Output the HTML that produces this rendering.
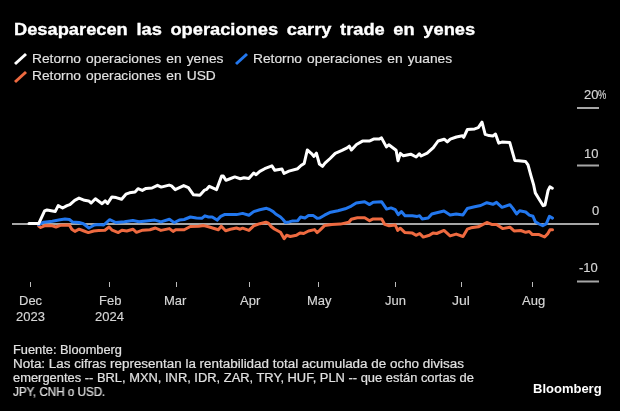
<!DOCTYPE html>
<html><head><meta charset="utf-8">
<style>
html,body{margin:0;padding:0;background:#000;width:620px;height:411px;overflow:hidden}
body{position:relative;font-family:"Liberation Sans",sans-serif;color:#fff}
.t{position:absolute;white-space:nowrap;line-height:1;transform-origin:0 0;will-change:transform}
.leg{font-size:13px;color:#e2e2e2;-webkit-text-stroke:0.15px #e2e2e2}
.ax{font-size:13px;color:#d6d6d6;-webkit-text-stroke:0.15px #d6d6d6}
.foot{font-size:12px;color:#e0e0e0;-webkit-text-stroke:0.2px #e0e0e0}
svg{position:absolute;left:0;top:0}
</style></head><body>
<div id="title" class="t" style="left:13.5px;top:21px;font-size:17px;font-weight:bold;color:#fff;word-spacing:3.3px;transform:scaleX(1.075);-webkit-text-stroke:0.35px #fff">Desaparecen las operaciones carry trade en yenes</div>
<div class="t leg" style="left:31.6px;top:52.3px;transform:scaleX(1.06);word-spacing:1.2px">Retorno operaciones en yenes</div>
<div class="t leg" style="left:252.6px;top:52.3px;transform:scaleX(1.06);word-spacing:1.2px">Retorno operaciones en yuanes</div>
<div class="t leg" style="left:31.6px;top:69px;transform:scaleX(1.06);word-spacing:1.2px">Retorno operaciones en USD</div>
<svg width="620" height="411" viewBox="0 0 620 411">
 <line x1="15" y1="64" x2="26" y2="54" stroke="#fff" stroke-width="3"/>
 <line x1="236" y1="64" x2="247" y2="54" stroke="#2277ee" stroke-width="3"/>
 <line x1="15" y1="82" x2="26" y2="72" stroke="#ee6a40" stroke-width="3"/>
 <g stroke="#a6a6a6" stroke-width="2">
  <line x1="577" y1="108" x2="599" y2="108"/>
  <line x1="577" y1="165.5" x2="599" y2="165.5"/>
  <line x1="577" y1="281.5" x2="599" y2="281.5"/>
  <line x1="12" y1="224" x2="599" y2="224"/>
 </g>
 <g stroke="#bbb" stroke-width="1">
  <line x1="30.5" y1="282" x2="30.5" y2="287"/>
  <line x1="109.5" y1="282" x2="109.5" y2="287"/>
  <line x1="176.5" y1="282" x2="176.5" y2="287"/>
  <line x1="249.5" y1="282" x2="249.5" y2="287"/>
  <line x1="318.5" y1="282" x2="318.5" y2="287"/>
  <line x1="395.5" y1="282" x2="395.5" y2="287"/>
  <line x1="461.5" y1="282" x2="461.5" y2="287"/>
  <line x1="532.5" y1="282" x2="532.5" y2="287"/>
 </g>
<!--LINES-->
 <polyline points="38.7,226 40.7,227.5 45,225.6 52.4,225.8 56,227 60.3,225.3 69.4,225 71.8,229.2 74.9,231.4 79.1,229.2 84,231 88.3,232.6 93.7,231 98.6,230.4 104.9,230.2 109.1,227 112.2,230.2 118.3,232.6 121.9,230.2 126.8,231 132.9,229.2 136.5,232.3 142.6,230.2 149.9,229.8 155.4,228 160.9,230.4 169.4,228.6 173.1,231.4 175.7,229.8 184.2,229.8 190.3,226.5 198.8,226.2 203.7,225.6 208.5,226.8 213.4,228.2 218.3,229.8 221.3,226.2 225.6,230.7 230.4,229.2 236.5,228 240.2,229.2 242.6,228.2 248.9,230.4 253.7,225.8 259.8,223.7 265.9,222.2 268.4,223.1 270.8,226.2 274.4,229 280.5,232.3 284.2,238.7 286.6,235.3 290.3,236.5 296.4,235.3 300,232.9 303.7,233.5 308.5,231 314.6,229.6 317.1,232.6 319.7,230.4 324.5,225.6 331.8,224.4 340.4,224.1 348.9,222.2 351.3,219.2 357.4,217.7 364.7,217.7 369.6,220.7 373.2,218.9 381.7,218.9 384.8,224.4 389.1,225.8 395.3,225 397.7,230.4 400.2,228.2 405,232.6 412.4,233.1 416,235.3 419.7,233.5 423.3,237.1 429.4,235.3 433,232.9 436.7,233.5 444,230.4 450.1,235.9 456.2,234.1 463,236.5 467.3,229.2 471,227.8 478.3,226.8 486.8,222.5 491.7,224.4 496.5,224.4 502.6,228.6 509.9,227.2 514.1,230.9 520.8,230.5 525.7,232.3 529.3,231.5 532.4,234.6 539.1,234.6 544.6,237 547.6,233.9 550,229.7 552.5,229.7" fill="none" stroke="#ee6a40" stroke-width="3" stroke-linejoin="round" stroke-linecap="round"/>
 <polyline points="38.7,224.6 43.8,222.2 52.4,221.3 60.1,219.7 65,219 69.4,219.5 72.4,221.9 79.1,222.5 83.4,223.7 88.9,228 94.4,225 98.6,224.4 103.7,225 109.7,219.7 115.8,222.5 124.4,221.7 132.9,220.5 139,221.7 146.3,220.9 154.8,220.1 160.9,221.9 169.4,219.2 173.1,221.9 174.4,222.5 179.3,220.1 184.2,219.5 190.3,217 196.4,218 201.8,218.3 204.9,215.8 208.5,217 212.2,217 217.1,220.1 220.7,216.4 224.4,214.6 230.4,214.4 236.5,214.6 242.6,213.4 248.9,215.2 253.7,211.6 259.8,209.7 266.5,208.3 269.6,209.5 273.2,211.6 275.7,214 280.5,217 283,219.5 285.4,222.5 289.1,221.9 292.7,220.9 297.6,220.7 300.6,217 304.9,218 308.5,215.6 313.4,215.6 317.1,218.3 319.7,218 324.5,215.2 330.6,212.2 337.9,210.7 345.2,208.8 351.3,206.1 356.2,203 364.7,201.8 369.6,204.6 373.2,202.2 381.7,201.8 386.6,209.1 391,207.9 395.3,209.7 398.3,214.6 401.4,211.6 405,215.8 412.4,215.8 417.2,216.4 419.7,215.8 422.1,218.9 428.2,218 431.8,214 436.7,212.8 444,211 450.1,214.9 456.2,214 463,214.9 467.3,208.5 474.6,206.7 480.7,205.5 486.8,202.7 492.9,204.3 496.5,202.4 502,207.3 509.9,204.7 512.9,208.4 516.6,213.9 519.6,210.8 525.7,212 529.3,215.1 533,216.3 535.4,221.8 539.1,224 542.7,225.7 546.4,223.6 549.4,216.3 552.5,218.1" fill="none" stroke="#2277ee" stroke-width="3" stroke-linejoin="round" stroke-linecap="round"/>
 <polyline points="29,223.6 38.7,223.6 44.6,210.9 47,210 55.3,211.4 58.2,205.6 62.6,208 67,205.6 69.9,204.6 74.7,200.3 79,198.1 84.5,200.3 88.7,200.9 91.2,203 95.4,198.8 102.1,203.7 105.2,200.9 107.6,203.4 111.9,196.9 116.1,197.6 121.6,199.3 125.9,194.2 129.5,192.8 135,192 138,188.7 142.3,190.4 146,188.4 152,188 157.5,185.3 161.2,187.1 169.1,185.1 171.5,185.9 175.2,189.6 183.7,185.6 188.4,187.6 193.5,194.8 199.9,195.2 204.6,190.1 206.7,189.3 209.3,186.3 216.5,189.7 221.6,176.1 223.3,176.1 225.9,180.3 229.4,179 234.8,176.9 240.3,178.7 244,177.7 248.8,178.4 253.7,173.1 256.1,174.7 259.8,171.4 264.7,168.7 271.9,165.9 274.8,170.3 282,169.1 284,173.5 288.9,171.1 297.7,168.7 301,165.5 304.2,163.4 307.3,150 311.5,153.6 314,156.4 316.4,153.2 319.4,164 322.5,166.4 325,163.2 330.1,158.5 335.2,153.4 342,150.4 347.1,147.9 349.3,146.2 351.4,150 356.5,144.5 362.5,141.1 369.3,141.1 373.6,139.1 379.1,139.1 381.5,137.9 386.4,146.9 388.8,144.8 396.1,150.3 398,160.7 400.4,153.4 403.4,155.8 410.7,154.2 416.2,157 419.3,153.8 421.1,156 427.2,153.2 433.3,147.7 438.1,141 444.2,139.2 447.3,141.9 450.3,139.2 456.4,137 462.5,135.8 463.7,137.4 467.4,129.5 474.7,128.9 478.3,127.7 482,122.2 485.2,134.4 489,135.6 492.9,135.9 495.5,134.1 498.7,143.1 501.9,142.1 509.7,142.4 514.8,160.4 518.7,160.8 525.6,161.5 528,164.9 531,175.8 533.5,184.3 535.3,192.9 539,199 543.2,205.7 545,205 548.1,190.4 549.9,186.8 552.3,188.2" fill="none" stroke="#ffffff" stroke-width="3" stroke-linejoin="round" stroke-linecap="round"/>
<!--/LINES-->
</svg>
<div class="t ax" style="left:584px;top:88px">20<span style="display:inline-block;transform:scaleX(0.72);transform-origin:0 0">%</span></div>
<div class="t ax" style="left:584px;top:147px">10</div>
<div class="t ax" style="left:592px;top:204px">0</div>
<div class="t ax" style="left:579px;top:261px">-10</div>
<div class="t ax" style="left:19px;top:293.5px">Dec</div>
<div class="t ax" style="left:16px;top:310px">2023</div>
<div class="t ax" style="left:99px;top:293.5px">Feb</div>
<div class="t ax" style="left:95px;top:310px">2024</div>
<div class="t ax" style="left:164px;top:293.5px">Mar</div>
<div class="t ax" style="left:239.5px;top:293.5px">Apr</div>
<div class="t ax" style="left:307px;top:293.5px">May</div>
<div class="t ax" style="left:385px;top:293.5px">Jun</div>
<div class="t ax" style="left:452px;top:293.5px;transform:scaleX(1.08)">Jul</div>
<div class="t ax" style="left:522px;top:293.5px">Aug</div>
<div class="t foot" style="left:13.2px;top:344px;transform:scaleX(1.068)">Fuente: Bloomberg</div>
<div class="t foot" style="left:13.2px;top:358.3px;transform:scaleX(1.119)">Nota: Las cifras representan la rentabilidad total acumulada de ocho divisas</div>
<div class="t foot" style="left:13.2px;top:372.3px;transform:scaleX(1.075)">emergentes -- BRL, MXN, INR, IDR, ZAR, TRY, HUF, PLN -- que están cortas de</div>
<div class="t foot" style="left:13.2px;top:386.3px;transform:scaleX(0.97)">JPY, CNH o USD.</div>
<div class="t" style="left:533px;top:382.3px;font-size:13px;font-weight:bold">Bloomberg</div>
</body></html>
